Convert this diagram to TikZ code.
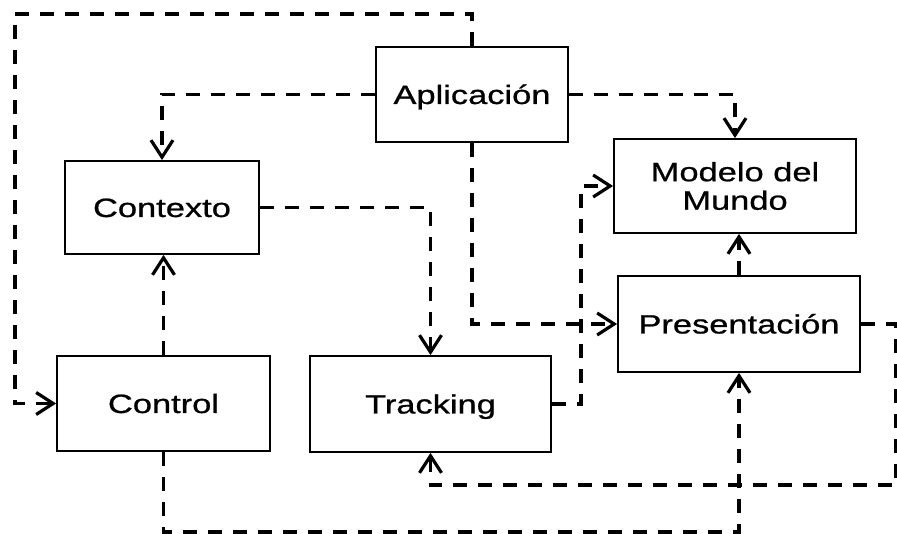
\documentclass[tikz,border=0pt]{standalone}
\usepackage{fontspec}
\usetikzlibrary{arrows.meta}
\newfontfamily\lblfont[FakeStretch=1.3,FakeBold=0.8]{Liberation Sans}
\begin{document}
\begin{tikzpicture}[x=1pt,y=-1pt,
  box/.style={draw=black, line width=1.8pt, fill=white, inner sep=0pt, align=center,
    font=\lblfont\fontsize{26.5}{28.5}\selectfont},
  oneline/.style={text height=19pt, text depth=0pt},
  conn/.style={line width=3.4pt, dash pattern=on 14pt off 11pt,
    -{Straight Barb[length=17pt,width=22pt,line width=3.2pt]}}]
\useasboundingbox (0,0) rectangle (897,534);
% boxes
\node[box, oneline, minimum width=192pt, minimum height=95pt] (apl) at (472,94.5) {Aplicación};
\node[box, oneline, minimum width=194pt, minimum height=93pt] (ctx) at (162,207.5) {Contexto};
\node[box, minimum width=242pt, minimum height=94pt] (mod) at (735,186) {Modelo del\\Mundo};
\node[box, oneline, minimum width=242pt, minimum height=96pt] (pres) at (739,324) {Presentación};
\node[box, oneline, minimum width=213pt, minimum height=95pt] (ctrl) at (163.5,403.5) {Control};
\node[box, oneline, minimum width=241pt, minimum height=96pt] (trk) at (430.5,404) {Tracking};
% helper coordinates
\coordinate (c1) at (15,14);
\coordinate (c7) at (581,404);
\coordinate (c9) at (896,485);
\coordinate (c10) at (739,532);
% connectors
\draw[conn] (apl.north) |- (c1) |- (ctrl.west);
\draw[conn] (apl.west) -| (ctx.north);
\draw[conn] (apl.east) -| (mod.north);
\draw[conn] (apl.south) |- (pres.west);
\draw[conn] (ctx.east) -| (trk.north);
\draw[conn] (ctrl.north) -- (ctrl.north |- ctx.south);
\draw[conn] (trk.east) -- (c7) |- (mod.west);
\draw[conn] (pres.north) -- (pres.north |- mod.south);
\draw[conn] (pres.east) -| (c9) -| (trk.south);
\draw[conn] (ctrl.south) |- (c10) -- (pres.south);
\end{tikzpicture}
\end{document}
